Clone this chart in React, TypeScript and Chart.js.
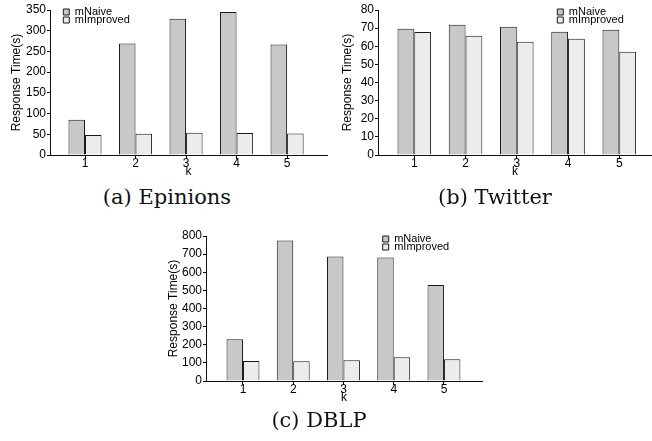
import { useEffect, useRef } from 'react';
import { Chart, registerables } from 'chart.js';

Chart.register(...registerables);

// ---- data ----
const kValues = [1, 2, 3, 4, 5];
const kTickLabels = ['1', '2', '3', '4', '5'];
const seriesNames = ['mNaive', 'mImproved'];

const epinionsNaive = [85, 269, 329, 345, 267];
const epinionsImproved = [48, 51, 54, 53, 52];
const epinionsYTicks = [0, 50, 100, 150, 200, 250, 300, 350];

const twitterNaive = [69.7, 71.9, 70.8, 68.0, 69.1];
const twitterImproved = [67.9, 65.8, 62.5, 64.2, 57.0];
const twitterYTicks = [0, 10, 20, 30, 40, 50, 60, 70, 80];

const dblpNaive = [230, 775, 687, 682, 530];
const dblpImproved = [111, 109, 115, 131, 120];
const dblpYTicks = [0, 100, 200, 300, 400, 500, 600, 700, 800];

const captions = ['(a) Epinions', '(b) Twitter', '(c) DBLP'];

// ---- styles ----
const NAIVE_FILL = '#c8c8c8';
const IMPROVED_FILL = '#ececec';
const BAR_BORDER = '#1a1a1a';
const SANS = "'Liberation Sans', Arial, Helvetica, sans-serif";
const LEGEND_FONT = 11;
const LEGEND_PAD = -3;

Chart.defaults.font.family = SANS;
Chart.defaults.color = '#000';

const legendPlacer = {
  id: 'legendPlacer',
  afterLayout(chart: any, _args: any, opts: any) {
    const lg = chart.legend;
    if (!lg) return;
    lg.left = opts.x - LEGEND_PAD;
    lg.top = opts.y - LEGEND_FONT / 2 - LEGEND_PAD;
    lg.width = 140;
    lg.height = 40;
    lg.right = lg.left + lg.width;
    lg.bottom = lg.top + lg.height;
    if (!lg.__unclipped) {
      lg.__unclipped = true;
      lg.draw = function () {
        if (this.options.display) this._draw();
      };
    }
  },
};

type PanelProps = {
  left: number;
  top: number;
  width: number;
  height: number;
  naive: number[];
  improved: number[];
  yTicks: number[];
  xMin: number;
  xMax: number;
  padRight: number;
  yTitlePad: number;
  legendX: number;
  legendY: number;
};

function Panel(p: PanelProps) {
  const ref = useRef<HTMLCanvasElement>(null);
  useEffect(() => {
    const chart = new Chart(ref.current as HTMLCanvasElement, {
      type: 'bar',
      data: {
        datasets: [
          {
            label: seriesNames[0],
            data: kValues.map((k, i) => ({ x: k, y: p.naive[i] })),
            backgroundColor: NAIVE_FILL,
            borderColor: BAR_BORDER,
            borderWidth: 1,
          },
          {
            label: seriesNames[1],
            data: kValues.map((k, i) => ({ x: k, y: p.improved[i] })),
            backgroundColor: IMPROVED_FILL,
            borderColor: BAR_BORDER,
            borderWidth: 1,
          },
        ],
      } as any,
      options: {
        animation: false,
        responsive: false,
        events: [],
        layout: { padding: { top: 10, right: p.padRight, bottom: 0, left: 0 } },
        datasets: { bar: { categoryPercentage: 0.655, barPercentage: 1 } },
        scales: {
          x: {
            type: 'linear',
            min: p.xMin,
            max: p.xMax,
            offset: false,
            afterBuildTicks: (s: any) => {
              s.ticks = kValues.map((v) => ({ value: v }));
            },
            afterFit: (s: any) => {
              s.height = 30;
            },
            ticks: {
              autoSkip: false,
              maxRotation: 0,
              padding: -3,
              font: { size: 12 },
              color: '#000',
              callback: (v: any) => {
                const i = kValues.indexOf(Number(v));
                return i >= 0 ? kTickLabels[i] : '';
              },
            },
            grid: { display: true, offset: false, drawOnChartArea: false, drawTicks: true, tickLength: 4, color: '#000' },
            border: { display: true, color: '#111', width: 1 },
            title: { display: true, text: 'k', font: { size: 12 }, color: '#000', padding: { top: 0, bottom: 6 } },
          },
          y: {
            type: 'linear',
            min: p.yTicks[0],
            max: p.yTicks[p.yTicks.length - 1],
            afterBuildTicks: (s: any) => {
              s.ticks = p.yTicks.map((v) => ({ value: v }));
            },
            afterFit: (s: any) => {
              s.width = 50;
            },
            ticks: { padding: 1, font: { size: 12 }, color: '#000' },
            grid: { display: true, drawOnChartArea: false, drawTicks: true, tickLength: 3, color: '#000' },
            border: { display: true, color: '#111', width: 1 },
            title: {
              display: true,
              text: 'Response Time(s)',
              font: { size: 12 },
              color: '#000',
              padding: { top: p.yTitlePad, bottom: 0 },
            },
          },
        },
        plugins: {
          legend: {
            position: 'chartArea',
            align: 'start',
            labels: {
              boxWidth: 6,
              boxHeight: 6,
              padding: LEGEND_PAD,
              font: { size: LEGEND_FONT },
              color: '#000',
            },
          },
          tooltip: { enabled: false },
          legendPlacer: { x: p.legendX, y: p.legendY },
        } as any,
      } as any,
      plugins: [legendPlacer],
    });
    return () => chart.destroy();
  }, []);
  return (
    <canvas
      ref={ref}
      width={p.width}
      height={p.height}
      style={{ position: 'absolute', left: p.left, top: p.top, width: p.width, height: p.height, display: 'block' }}
    />
  );
}

const captionStyle = (left: number, top: number): any => ({
  position: 'absolute',
  left,
  top,
  width: 300,
  textAlign: 'center',
  fontFamily: "'DejaVu Serif', serif",
  fontSize: 21,
  lineHeight: '21px',
  color: '#111',
  whiteSpace: 'nowrap',
});

export default function App() {
  return (
    <div style={{ position: 'absolute', left: 0, top: 0, width: 652, height: 441, background: '#fff', overflow: 'hidden' }}>
      <Panel
        left={0}
        top={0}
        width={330}
        height={185}
        naive={epinionsNaive}
        improved={epinionsImproved}
        yTicks={epinionsYTicks}
        xMin={0.307}
        xMax={5.79}
        padRight={3}
        yTitlePad={9}
        legendX={63.3}
        legendY={12}
      />
      <Panel
        left={328}
        top={0}
        width={324}
        height={185}
        naive={twitterNaive}
        improved={twitterImproved}
        yTicks={twitterYTicks}
        xMin={0.292}
        xMax={5.638}
        padRight={0}
        yTitlePad={12}
        legendX={229.3}
        legendY={12}
      />
      <Panel
        left={156}
        top={226}
        width={330}
        height={185}
        naive={dblpNaive}
        improved={dblpImproved}
        yTicks={dblpYTicks}
        xMin={0.264}
        xMax={5.757}
        padRight={4}
        yTitlePad={10}
        legendX={226.7}
        legendY={13}
      />
      <div style={captionStyle(17, 187)}>{captions[0]}</div>
      <div style={captionStyle(345, 187)}>{captions[1]}</div>
      <div style={captionStyle(169, 410)}>{captions[2]}</div>
    </div>
  );
}
